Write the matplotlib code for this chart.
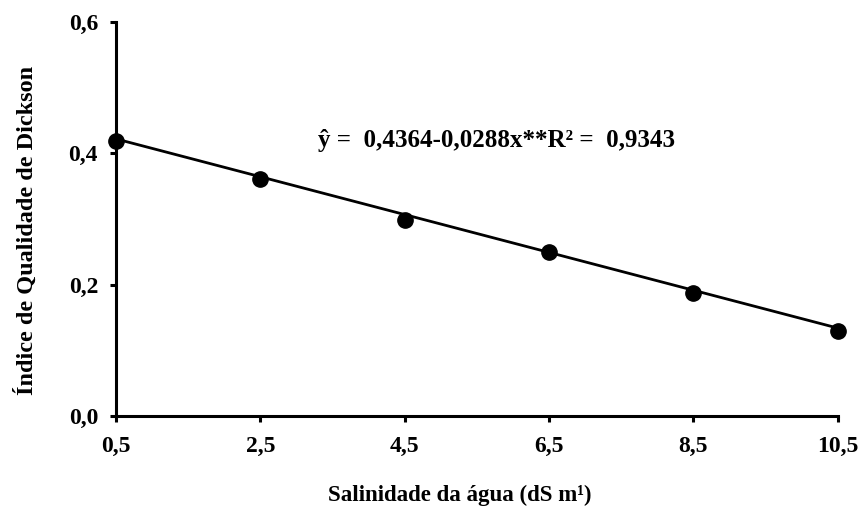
import matplotlib
matplotlib.use('Agg')
from matplotlib import pyplot as plt

# Salinity levels and Dickson quality index
salinidade = [0.5, 2.5, 4.5, 6.5, 8.5, 10.5]
idq = [0.419, 0.361, 0.298, 0.250, 0.187, 0.129]

# fitted line endpoints
reta_x = [0.5, 10.5]
reta_y = [0.422, 0.134]

x_ticks = [0.5, 2.5, 4.5, 6.5, 8.5, 10.5]
x_labels = ['0,5', '2,5', '4,5', '6,5', '8,5', '10,5']
y_ticks = [0.0, 0.2, 0.4, 0.6]
y_labels = ['0,0', '0,2', '0,4', '0,6']

plt.rcParams['font.family'] = ['Liberation Serif', 'DejaVu Serif']
plt.rcParams['font.weight'] = 'bold'

fig = plt.figure(figsize=(8.6, 5.13), dpi=100)
ax = fig.add_axes([0.135, 0.189, 0.839, 0.768])

ax.plot(reta_x, reta_y, color='black', linewidth=2, zorder=2)
ax.plot(salinidade, idq, 'o', color='black', markersize=11, zorder=3, clip_on=False)

ax.set_xlim(0.5, 10.5)
ax.set_ylim(0, 0.6)
ax.set_xticks(x_ticks)
ax.set_xticklabels(x_labels)
ax.set_yticks(y_ticks)
ax.set_yticklabels(y_labels)

for s in ['top', 'right']:
    ax.spines[s].set_visible(False)
for s in ['left', 'bottom']:
    ax.spines[s].set_linewidth(2.2)
ax.tick_params(direction='out', length=4, width=2.2, labelsize=17)
ax.tick_params(axis='x', pad=10)
ax.tick_params(axis='y', pad=9)

ax.set_xlabel('Salinidade da água (dS m¹)', fontsize=16.5, fontweight='bold')
ax.xaxis.set_label_coords(0.476, -0.175)
ax.set_ylabel('Índice de Qualidade de Dickson', fontsize=17.5, fontweight='bold')
ax.yaxis.set_label_coords(-0.108, 0.472)

ax.text(3.3, 0.42, 'ŷ =  0,4364-0,0288x**R² =  0,9343', fontsize=18,
        fontweight='bold', va='center', ha='left')

plt.savefig('out.png', dpi=100)
